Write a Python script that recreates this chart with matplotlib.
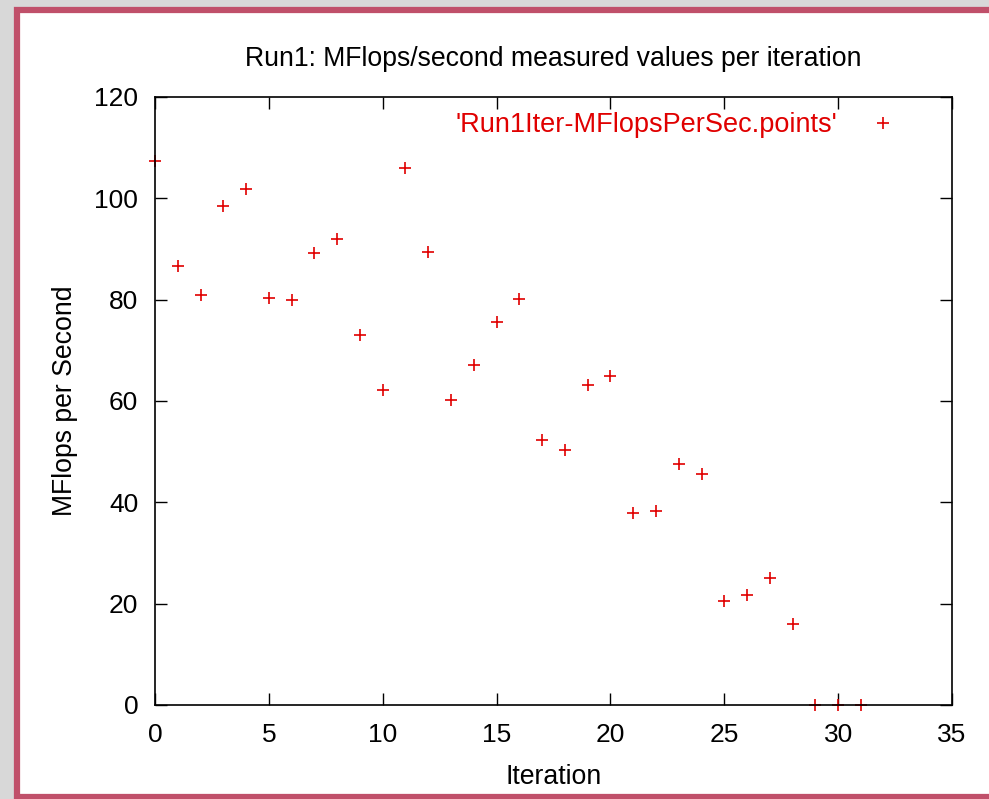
import matplotlib
matplotlib.use("Agg")
import matplotlib.pyplot as plt
from matplotlib.patches import Rectangle

plt.rcParams['font.family'] = ['Liberation Sans', 'DejaVu Sans']

iterations = list(range(32))
mflops = [107.4, 86.6, 80.9, 98.5, 101.8, 80.3, 79.9, 89.2, 92.0, 73.0,
          62.2, 106.0, 89.4, 60.2, 67.1, 75.6, 80.1, 52.3, 50.3, 63.2,
          64.9, 37.9, 38.3, 47.6, 45.6, 20.5, 21.7, 25.1, 16.0, 0.0,
          0.0, 0.0]
x_ticks = [0, 5, 10, 15, 20, 25, 30, 35]
y_ticks = [0, 20, 40, 60, 80, 100, 120]
title = "Run1: MFlops/second measured values per iteration"
series_label = "'Run1Iter-MFlopsPerSec.points'"

W, H = 989, 799
fig = plt.figure(figsize=(W / 100, H / 100), dpi=100)
fig.patch.set_facecolor('#d8d8d8')

# white panel with pink frame
panel = Rectangle((17 / W, 2 / H), 1.1, (H - 12) / H,
                  transform=fig.transFigure, facecolor='white',
                  edgecolor='#c0506a', linewidth=4.5, zorder=-5)
fig.patches.append(panel)

ax = fig.add_axes([155 / W, (H - 705) / H, (952 - 155) / W, (705 - 97) / H])
ax.set_zorder(2)
ax.set_facecolor('white')
ax.plot(iterations, mflops, linestyle='none', marker='+', color='#e00000',
        markersize=9, markeredgewidth=1.2, label=series_label, clip_on=False)

ax.set_xlim(0, 35)
ax.set_ylim(0, 120)
ax.set_xticks(x_ticks)
ax.set_yticks(y_ticks)
ax.tick_params(direction='in', length=8.5, width=1.0, top=True, right=True,
               labelsize=19, colors='black')
ax.tick_params(axis='x', pad=13)
ax.tick_params(axis='y', pad=12)
for s in ax.spines.values():
    s.set_linewidth(1.2)
    s.set_color('black')

ax.set_title(title, fontsize=19.2, pad=22)
ax.set_xlabel("Iteration", fontsize=19.2, labelpad=12)
ax.set_ylabel("MFlops per Second", fontsize=19.2, labelpad=12)

leg = ax.legend(loc='upper right', bbox_to_anchor=(0.930, 0.975),
                frameon=False, markerfirst=False, borderpad=0,
                borderaxespad=0, fontsize=19.5, labelcolor='#e00000',
                handlelength=1.0, handletextpad=1.17)

fig.savefig('out.png', dpi=100, facecolor=fig.get_facecolor())
